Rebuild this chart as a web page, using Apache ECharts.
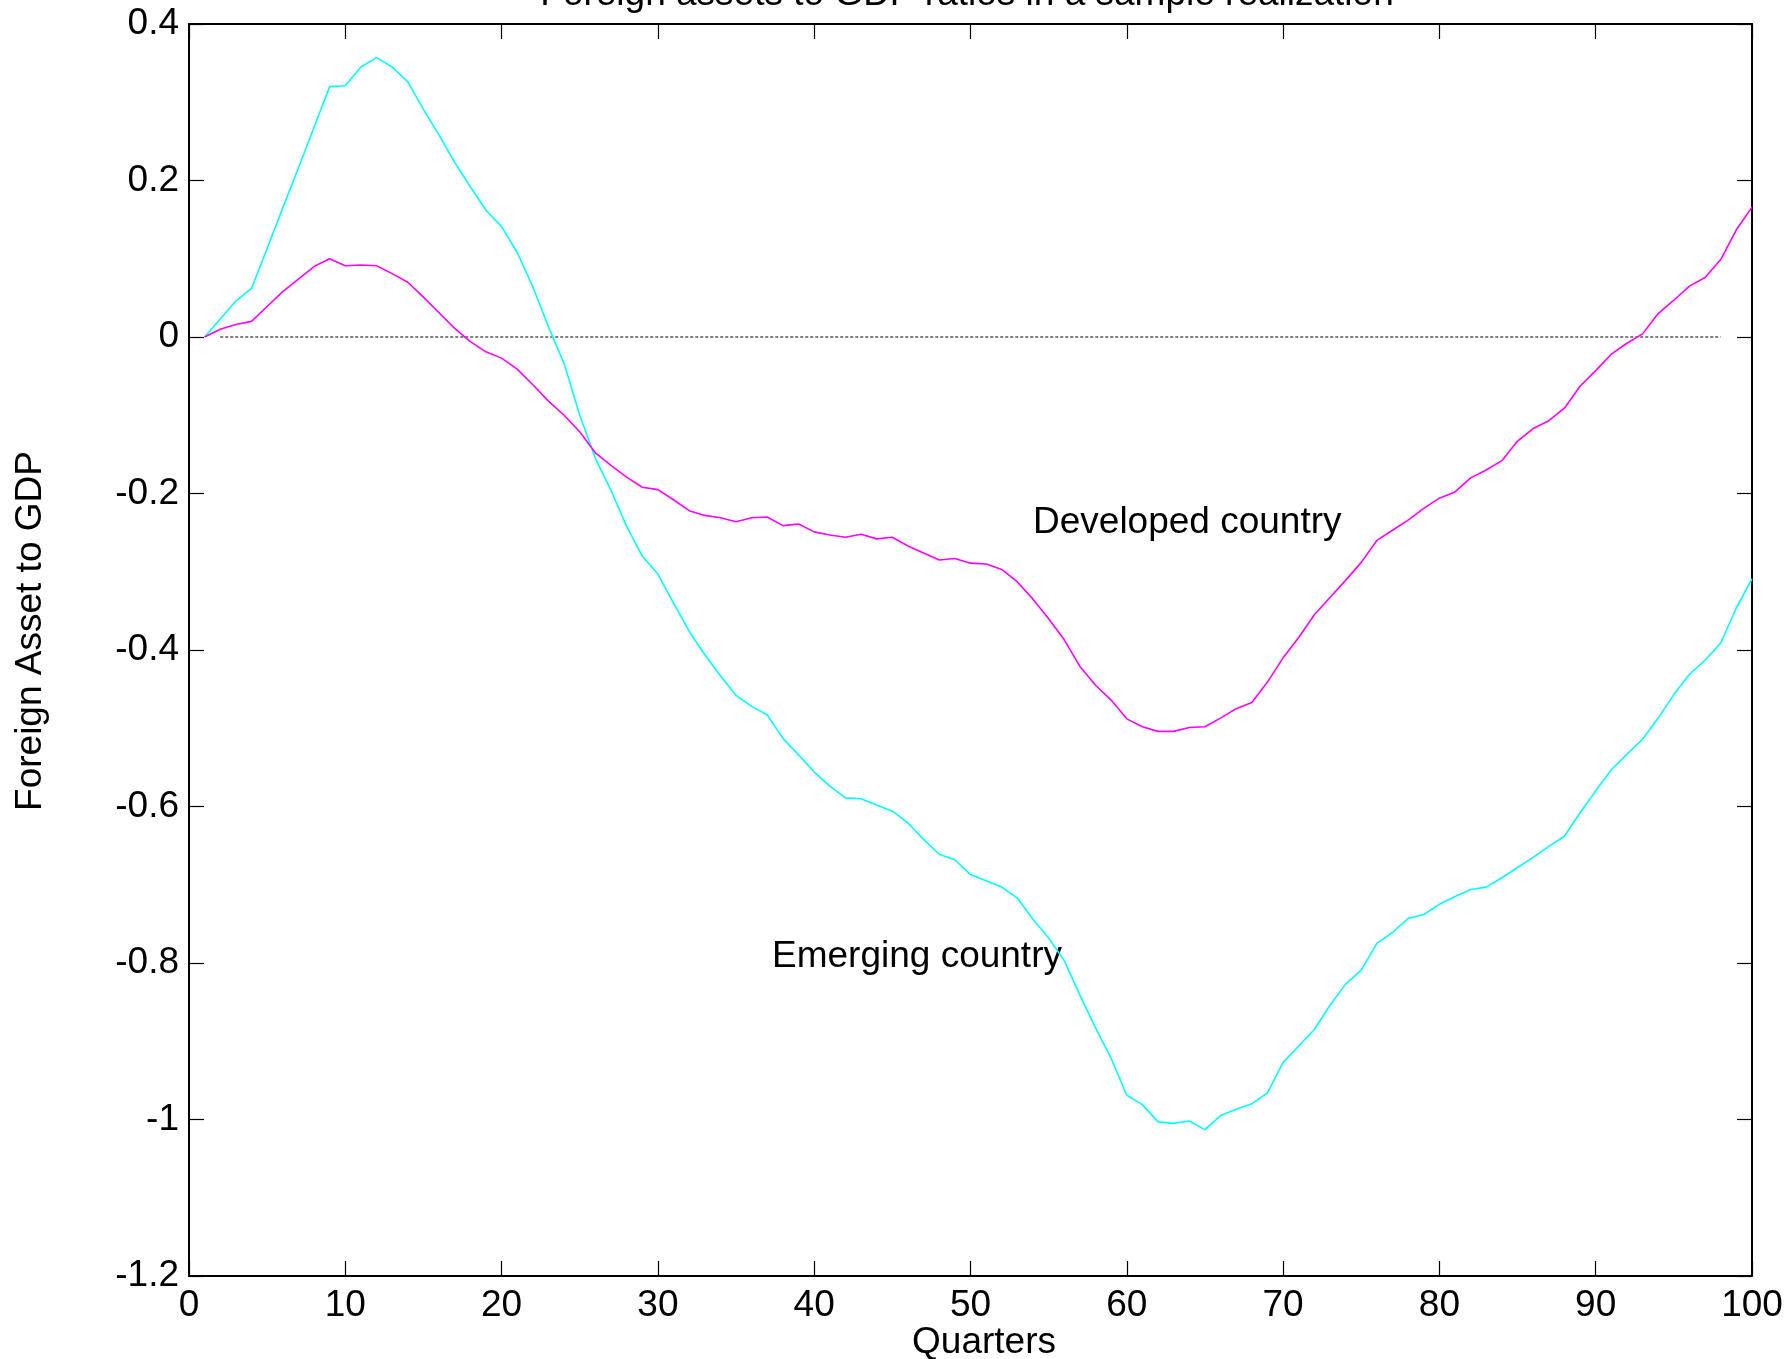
<!DOCTYPE html>
<html>
<head>
<meta charset="utf-8">
<script src="https://cdn.jsdelivr.net/npm/echarts@6/dist/echarts.min.js"></script>
<style>
html,body{margin:0;padding:0;background:#fff;}
#chart{width:1788px;height:1359px;}
</style>
</head>
<body>
<div id="chart"></div>
<script>
// ---- data ----
var quarters = [1,2,3,4,5,6,7,8,9,10,11,12,13,14,15,16,17,18,19,20,
  21,22,23,24,25,26,27,28,29,30,31,32,33,34,35,36,37,38,39,40,
  41,42,43,44,45,46,47,48,49,50,51,52,53,54,55,56,57,58,59,60,
  61,62,63,64,65,66,67,68,69,70,71,72,73,74,75,76,77,78,79,80,
  81,82,83,84,85,86,87,88,89,90,91,92,93,94,95,96,97,98,99,100];

var emerging = [0, 0.023, 0.046, 0.062, 0.113, 0.165, 0.216, 0.268, 0.320, 0.321,
  0.345, 0.357, 0.345, 0.326, 0.291, 0.258, 0.223, 0.192, 0.162, 0.141,
  0.108, 0.064, 0.013, -0.034, -0.100, -0.155, -0.196, -0.242, -0.280, -0.303,
  -0.340, -0.376, -0.406, -0.433, -0.458, -0.472, -0.483, -0.513, -0.534, -0.556,
  -0.574, -0.589, -0.590, -0.598, -0.606, -0.621, -0.642, -0.661, -0.668, -0.687,
  -0.695, -0.703, -0.717, -0.744, -0.768, -0.797, -0.841, -0.883, -0.922, -0.969,
  -0.981, -1.003, -1.005, -1.002, -1.013, -0.995, -0.987, -0.980, -0.966, -0.927,
  -0.906, -0.885, -0.854, -0.827, -0.809, -0.775, -0.761, -0.743, -0.738, -0.725,
  -0.715, -0.706, -0.703, -0.691, -0.678, -0.665, -0.651, -0.638, -0.608, -0.580,
  -0.553, -0.533, -0.514, -0.487, -0.457, -0.431, -0.413, -0.391, -0.346, -0.309];

var developed = [0, 0.010, 0.016, 0.020, 0.039, 0.058, 0.074, 0.090, 0.100, 0.091,
  0.092, 0.091, 0.081, 0.070, 0.051, 0.031, 0.011, -0.006, -0.019, -0.027,
  -0.041, -0.061, -0.082, -0.100, -0.121, -0.148, -0.164, -0.179, -0.192, -0.195,
  -0.208, -0.222, -0.228, -0.231, -0.236, -0.231, -0.230, -0.241, -0.239, -0.249,
  -0.253, -0.256, -0.252, -0.258, -0.256, -0.267, -0.276, -0.285, -0.283, -0.289,
  -0.290, -0.297, -0.313, -0.335, -0.360, -0.387, -0.421, -0.445, -0.464, -0.488,
  -0.498, -0.504, -0.504, -0.499, -0.498, -0.487, -0.475, -0.467, -0.441, -0.410,
  -0.384, -0.355, -0.333, -0.311, -0.288, -0.260, -0.247, -0.234, -0.219, -0.206,
  -0.198, -0.180, -0.170, -0.158, -0.133, -0.117, -0.107, -0.091, -0.063, -0.043,
  -0.022, -0.008, 0.004, 0.030, 0.047, 0.065, 0.076, 0.099, 0.137, 0.166];

var zeroLineX = [2, 98];
var zeroLineY = [0, 0];

var xTickLabels = ['0','10','20','30','40','50','60','70','80','90','100'];
var yTickLabels = ['-1.2','-1','-0.8','-0.6','-0.4','-0.2','0','0.2','0.4'];

var titleText = 'Foreign assets to GDP ratios in a sample realization';
var xName = 'Quarters';
var yName = 'Foreign Asset to GDP';
var labelDeveloped = 'Developed country';
var labelEmerging = 'Emerging country';

// ---- chart ----
var FONT = "'Liberation Sans', Arial, Helvetica, sans-serif";
var FS = 37;

function pairs(xs, ys){ var out=[]; for(var i=0;i<xs.length;i++){ out.push([xs[i], ys[i]]); } return out; }
function yFmt(v){ var idx = Math.round((v + 1.2) / 0.2); return yTickLabels[idx] !== undefined ? yTickLabels[idx] : ''; }
function xFmt(v){ var idx = Math.round(v / 10); return xTickLabels[idx] !== undefined ? xTickLabels[idx] : ''; }

var chart = echarts.init(document.getElementById('chart'), null, {renderer:'canvas'});

var axisCommonLine = {show:true, onZero:false, lineStyle:{color:'#000', width:2}};
var tickInside = {show:true, inside:true, length:15, lineStyle:{color:'#000', width:1.2}};

var option = {
  backgroundColor:'#fff',
  animation:false,
  grid:{left:189, right:36, top:24, bottom:83, containLabel:false},
  xAxis:[
    {type:'value', min:0, max:100, interval:10, position:'bottom',
     axisLine:axisCommonLine, axisTick:tickInside, splitLine:{show:false},
     axisLabel:{show:true, margin:11, color:'#000', fontSize:FS, fontFamily:FONT, formatter:xFmt}},
    {type:'value', min:0, max:100, interval:10, position:'top',
     axisLine:axisCommonLine, axisTick:tickInside, splitLine:{show:false},
     axisLabel:{show:false}}
  ],
  yAxis:[
    {type:'value', min:-1.2, max:0.4, interval:0.2, position:'left',
     axisLine:axisCommonLine, axisTick:tickInside, splitLine:{show:false},
     axisLabel:{show:true, margin:10, color:'#000', fontSize:FS, fontFamily:FONT, formatter:yFmt}},
    {type:'value', min:-1.2, max:0.4, interval:0.2, position:'right',
     axisLine:axisCommonLine, axisTick:tickInside, splitLine:{show:false},
     axisLabel:{show:false}}
  ],
  series:[
    {name:'Zero', type:'line', xAxisIndex:0, yAxisIndex:0, data:pairs(zeroLineX, zeroLineY),
     symbol:'none', silent:true, lineStyle:{color:'#000', width:1, type:[3,2]}, z:1},
    {name:labelEmerging, type:'line', xAxisIndex:0, yAxisIndex:0, data:pairs(quarters, emerging),
     symbol:'none', lineStyle:{color:'#00FFFF', width:1.6}, itemStyle:{color:'#00FFFF'}, z:2},
    {name:labelDeveloped, type:'line', xAxisIndex:0, yAxisIndex:0, data:pairs(quarters, developed),
     symbol:'none', lineStyle:{color:'#FF00FF', width:1.6}, itemStyle:{color:'#FF00FF'}, z:3}
  ],
  graphic:[
    {type:'text', x:967, y:-5, style:{text:titleText, fill:'#000', font:FS+'px '+FONT, textAlign:'center', textVerticalAlign:'middle'}},
    {type:'text', x:984, y:1343, style:{text:xName, fill:'#000', font:FS+'px '+FONT, textAlign:'center', textVerticalAlign:'middle'}},
    {type:'text', x:31, y:631, rotation:Math.PI/2, style:{text:yName, fill:'#000', font:FS+'px '+FONT, textAlign:'center', textVerticalAlign:'middle'}},
    {type:'text', x:1033, y:523, style:{text:labelDeveloped, fill:'#000', font:FS+'px '+FONT, textAlign:'left', textVerticalAlign:'middle'}},
    {type:'text', x:772, y:957, style:{text:labelEmerging, fill:'#000', font:FS+'px '+FONT, textAlign:'left', textVerticalAlign:'middle'}}
  ]
};
chart.setOption(option);
</script>
</body>
</html>
